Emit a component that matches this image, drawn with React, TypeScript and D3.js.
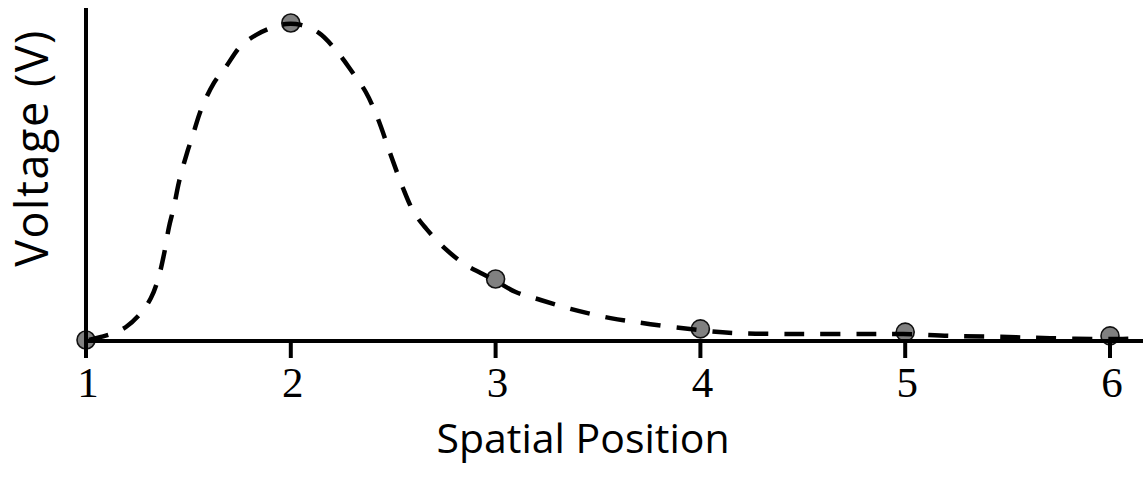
import React from "react";
import * as d3 from "d3";

// Measured samples (spatial position, voltage in arbitrary units, peak = 10)
const positions = [1, 2, 3, 4, 5, 6];
const voltages = [0.03, 10.0, 1.95, 0.38, 0.28, 0.16];

const curveX = [1.015, 1.073, 1.122, 1.195, 1.268, 1.317, 1.351, 1.38, 1.405, 1.429, 1.454, 1.493, 1.522, 1.561, 1.624, 1.683, 1.756, 1.829, 1.902, 1.976, 2.049, 2.137, 2.22, 2.293, 2.366, 2.424, 2.488, 2.546, 2.6, 2.659, 2.751, 2.854, 2.927, 2.985, 3.098, 3.22, 3.366, 3.561, 3.756, 3.985, 4.171, 4.488, 4.805, 4.99, 5.22, 5.463, 5.707, 6.0, 6.161];
const curveY = [0.03, 0.13, 0.22, 0.44, 0.88, 1.35, 1.92, 2.7, 3.58, 4.21, 5.0, 5.91, 6.48, 7.26, 8.11, 8.62, 9.28, 9.62, 9.84, 9.97, 9.94, 9.69, 9.15, 8.52, 7.83, 7.01, 5.85, 4.84, 4.06, 3.55, 2.92, 2.39, 2.14, 1.95, 1.54, 1.29, 1.01, 0.72, 0.53, 0.35, 0.25, 0.22, 0.22, 0.22, 0.16, 0.13, 0.09, 0.06, 0.09];

const tickLabels = ["1", "2", "3", "4", "5", "6"];
const xTitle = "Spatial Position";
const yTitle = "Voltage (V)";

const W = 1143;
const H = 482;

export default function App() {
  const x = d3.scaleLinear().domain([1, 6]).range([86, 1110]);
  const y = d3.scaleLinear().domain([0, 10]).range([341, 23]);

  const curvePts: [number, number][] = curveX.map((cx, i) => [cx, curveY[i]]);
  const line = d3
    .line<[number, number]>()
    .x((d) => x(d[0]))
    .y((d) => y(d[1]))
    .curve(d3.curveCatmullRom.alpha(0.5));

  const x0 = x(1);
  const y0 = y(0);

  return (
    <svg
      width={W}
      height={H}
      style={{ position: "absolute", left: 0, top: 0, background: "#fff" }}
    >
      {/* points */}
      {positions.map((p, i) => (
        <circle
          key={p}
          cx={x(p)}
          cy={y(voltages[i])}
          r={9}
          fill="#808080"
          stroke="#111"
          strokeWidth={1.6}
        />
      ))}
      {/* axes */}
      <line x1={x0} x2={W + 5} y1={y0} y2={y0} stroke="#000" strokeWidth={4} />
      <line x1={x0} x2={x0} y1={8} y2={358} stroke="#000" strokeWidth={4} />
      {positions.slice(1).map((p) => (
        <line key={p} x1={x(p)} x2={x(p)} y1={y0} y2={358} stroke="#000" strokeWidth={4} />
      ))}
      {/* dashed curve */}
      <path
        d={line(curvePts) || ""}
        fill="none"
        stroke="#000"
        strokeWidth={4.5}
        strokeDasharray="20 16"
      />
      {/* tick labels */}
      {positions.map((p, i) => (
        <text
          key={p}
          x={x(p) + 2}
          y={397}
          textAnchor="middle"
          fontFamily="'Liberation Serif', serif"
          fontSize={43}
          fill="#000"
        >
          {tickLabels[i]}
        </text>
      ))}
      <text
        x={583}
        y={453}
        textAnchor="middle"
        fontFamily="'Open Sans', sans-serif"
        fontSize={41}
        fill="#000"
      >
        {xTitle}
      </text>
      <text
        transform={`translate(48,148) rotate(-90)`}
        textAnchor="middle"
        fontFamily="'Open Sans', sans-serif"
        fontSize={45}
        letterSpacing={1.5}
        fill="#000"
      >
        {yTitle}
      </text>
    </svg>
  );
}
